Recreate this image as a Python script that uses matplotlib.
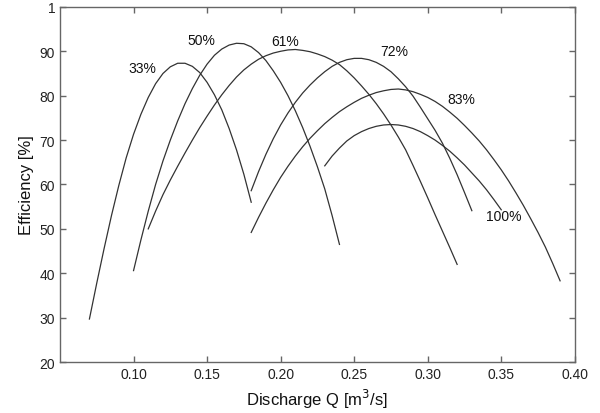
import matplotlib
matplotlib.use("Agg")
import matplotlib.pyplot as plt

plt.rcParams['font.family'] = ['Liberation Sans', 'DejaVu Sans']

# discharge [m3/s] / efficiency [%] readings for each guide vane opening
q_33 = [0.070, 0.075, 0.080, 0.085, 0.090, 0.095, 0.100, 0.105, 0.110, 0.115,
        0.120, 0.125, 0.130, 0.135, 0.140, 0.145, 0.150, 0.155, 0.160, 0.165,
        0.170, 0.175, 0.180]
e_33 = [29.7, 37.8, 45.6, 53.0, 59.8, 66.0, 71.3, 75.8, 79.6, 82.7,
        85.0, 86.5, 87.3, 87.3, 86.6, 85.2, 83.0, 80.2, 76.8, 72.6,
        67.8, 62.3, 56.0]

q_50 = [0.100, 0.105, 0.110, 0.115, 0.120, 0.125, 0.130, 0.135, 0.140, 0.145,
        0.150, 0.155, 0.160, 0.165, 0.170, 0.175, 0.180, 0.185, 0.190, 0.195,
        0.200, 0.205, 0.210, 0.215, 0.220, 0.225, 0.230, 0.235, 0.240]
e_50 = [40.6, 47.5, 54.0, 60.0, 65.3, 70.0, 74.3, 78.2, 81.6, 84.6,
        87.1, 89.1, 90.5, 91.4, 91.8, 91.7, 91.0, 89.7, 87.9, 85.6,
        83.0, 80.0, 76.6, 72.8, 68.6, 64.0, 59.0, 53.0, 46.5]

q_61 = [0.110, 0.115, 0.120, 0.125, 0.130, 0.135, 0.140, 0.145, 0.150, 0.155,
        0.160, 0.165, 0.170, 0.175, 0.180, 0.185, 0.190, 0.195, 0.200, 0.205,
        0.210, 0.215, 0.220, 0.225, 0.230, 0.235, 0.240, 0.245, 0.250, 0.255,
        0.260, 0.265, 0.270, 0.275, 0.280, 0.285, 0.290, 0.295, 0.300, 0.305,
        0.310, 0.315, 0.320]
e_61 = [50.0, 54.0, 57.7, 61.0, 64.1, 67.1, 70.0, 72.8, 75.4, 77.9,
        80.2, 82.3, 84.2, 85.8, 87.1, 88.2, 89.0, 89.6, 90.0, 90.3,
        90.4, 90.2, 89.9, 89.4, 88.8, 88.0, 87.0, 85.6, 84.0, 82.2,
        80.3, 78.2, 75.9, 73.4, 70.7, 67.8, 64.3, 60.7, 57.0, 53.2,
        49.5, 45.8, 42.0]

q_72 = [0.180, 0.185, 0.190, 0.195, 0.200, 0.205, 0.210, 0.215, 0.220, 0.225,
        0.230, 0.235, 0.240, 0.245, 0.250, 0.255, 0.260, 0.265, 0.270, 0.275,
        0.280, 0.285, 0.290, 0.295, 0.300, 0.305, 0.310, 0.315, 0.320, 0.325,
        0.330]
e_72 = [58.6, 62.9, 66.8, 70.3, 73.4, 76.1, 78.5, 80.6, 82.4, 84.0,
        85.4, 86.6, 87.5, 88.1, 88.4, 88.4, 88.1, 87.5, 86.6, 85.4,
        83.8, 82.0, 79.9, 77.4, 74.8, 72.2, 69.3, 65.9, 62.2, 58.2,
        54.1]

q_83 = [0.180, 0.185, 0.190, 0.195, 0.200, 0.205, 0.210, 0.215, 0.220, 0.225,
        0.230, 0.235, 0.240, 0.245, 0.250, 0.255, 0.260, 0.265, 0.270, 0.275,
        0.280, 0.285, 0.290, 0.295, 0.300, 0.305, 0.310, 0.315, 0.320, 0.325,
        0.330, 0.335, 0.340, 0.345, 0.350, 0.355, 0.360, 0.365, 0.370, 0.375,
        0.380, 0.385, 0.390]
e_83 = [49.2, 52.6, 55.8, 58.8, 61.6, 64.1, 66.4, 68.5, 70.4, 72.1,
        73.7, 75.1, 76.4, 77.5, 78.5, 79.4, 80.1, 80.7, 81.1, 81.4,
        81.5, 81.3, 80.9, 80.3, 79.6, 78.7, 77.6, 76.3, 74.9, 73.3,
        71.6, 69.8, 67.8, 65.6, 63.3, 60.8, 58.1, 55.3, 52.3, 49.2,
        45.9, 42.2, 38.3]

q_100 = [0.230, 0.235, 0.240, 0.245, 0.250, 0.255, 0.260, 0.265, 0.270, 0.275,
         0.280, 0.285, 0.290, 0.295, 0.300, 0.305, 0.310, 0.315, 0.320, 0.325,
         0.330, 0.335, 0.340, 0.345, 0.350]
e_100 = [64.2, 66.4, 68.2, 69.8, 71.0, 71.9, 72.6, 73.1, 73.4, 73.5,
         73.4, 73.1, 72.6, 71.9, 71.0, 70.0, 68.8, 67.5, 66.0, 64.4,
         62.6, 60.8, 58.8, 56.6, 54.3]

labels = ['33%', '50%', '61%', '72%', '83%', '100%']
label_q = [0.1059, 0.1462, 0.2032, 0.2773, 0.3227, 0.3516]
label_e = [86.3, 92.6, 92.4, 90.0, 79.3, 53.0]

x_ticks = [0.10, 0.15, 0.20, 0.25, 0.30, 0.35, 0.40]
x_ticklabels = ['0.10', '0.15', '0.20', '0.25', '0.30', '0.35', '0.40']
y_ticks = [20, 30, 40, 50, 60, 70, 80, 90, 100]
y_ticklabels = ['20', '30', '40', '50', '60', '70', '80', '90', '1']


def main():
    fig = plt.figure(figsize=(6.0, 4.14), dpi=100)
    ax = fig.add_axes([0.100, 0.123, 0.858, 0.858])

    curves = [(q_33, e_33), (q_50, e_50), (q_61, e_61),
              (q_72, e_72), (q_83, e_83), (q_100, e_100)]
    for q, e in curves:
        ax.plot(q, e, color='#333333', lw=0.9)

    for lab, q, e in zip(labels, label_q, label_e):
        ax.text(q, e, lab, fontsize=10, ha='center', va='center', color='#111111')

    ax.set_xlim(0.05, 0.40)
    ax.set_ylim(20, 100)
    ax.set_xticks(x_ticks)
    ax.set_xticklabels(x_ticklabels)
    ax.set_yticks(y_ticks)
    ax.set_yticklabels(y_ticklabels)

    ax.tick_params(direction='in', length=4, width=1, color='#666666',
                   top=True, right=True, labelsize=10, labelcolor='#222222')
    for sp in ax.spines.values():
        sp.set_color('#666666')
        sp.set_linewidth(1.0)

    ax.set_xlabel('Discharge Q [m$^3$/s]', fontsize=12, color='#111111')
    ax.set_ylabel('Efficiency [%]', fontsize=12, color='#111111')

    fig.savefig('out.png', dpi=100)


if __name__ == '__main__':
    main()
